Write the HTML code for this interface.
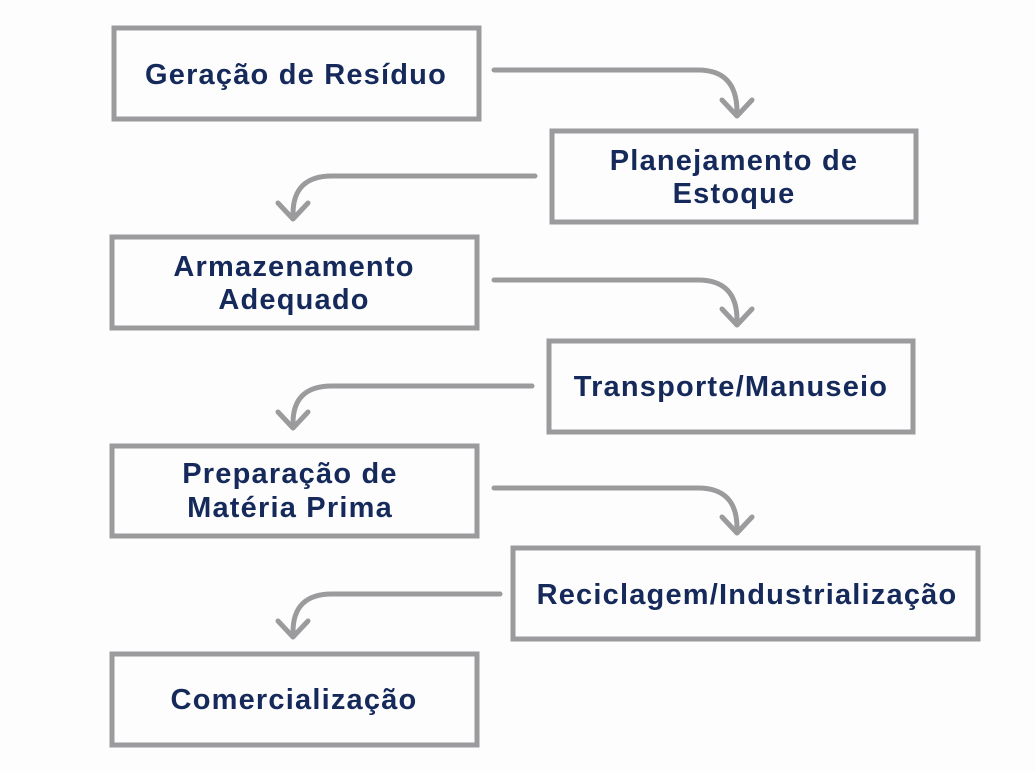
<!DOCTYPE html>
<html><head><meta charset="utf-8"><style>
html,body{margin:0;padding:0;background:#fdfdfd;}
svg{display:block}
text{font-family:"Liberation Sans",sans-serif;font-weight:bold;font-size:29px;letter-spacing:1.2px;fill:#15295a;text-anchor:middle;}
</style></head><body>
<svg width="1035" height="773" viewBox="0 0 1035 773">
<g fill="none" stroke="#9b9b9e" stroke-width="5">
<rect x="114" y="28" width="365" height="91"/>
<rect x="552" y="131" width="364" height="91"/>
<rect x="112" y="237" width="365" height="91"/>
<rect x="549" y="341" width="364" height="91"/>
<rect x="112" y="446" width="365" height="90"/>
<rect x="513" y="548" width="465" height="91"/>
<rect x="112" y="654" width="365" height="91"/>
</g>
<g fill="none" stroke="#9b9b9e" stroke-width="5" stroke-linecap="round" stroke-linejoin="round">
<path d="M494 70 H698 Q737 70 737 112"/><path d="M722 100 L737 116 L752 100"/>
<path d="M535 176 H332 Q293 176 293 214"/><path d="M278 203 L293 219 L308 203"/>
<path d="M494 280 H698 Q737 280 737 320"/><path d="M722 309 L737 325 L752 309"/>
<path d="M532 386 H332 Q293 386 293 423"/><path d="M278 412 L293 428 L308 412"/>
<path d="M494 488 H698 Q737 488 737 528"/><path d="M722 517 L737 533 L752 517"/>
<path d="M500 594 H332 Q293 594 293 632"/><path d="M278 621 L293 637 L308 621"/>
</g>
<text x="296" y="84">Geração de Resíduo</text>
<text x="734" y="170">Planejamento de</text>
<text x="734" y="203">Estoque</text>
<text x="294" y="276">Armazenamento</text>
<text x="294" y="309">Adequado</text>
<text x="731" y="396">Transporte/Manuseio</text>
<text x="290" y="483">Preparação de</text>
<text x="290" y="517">Matéria Prima</text>
<text x="747" y="604">Reciclagem/Industrialização</text>
<text x="294" y="709">Comercialização</text>
</svg>
</body></html>
